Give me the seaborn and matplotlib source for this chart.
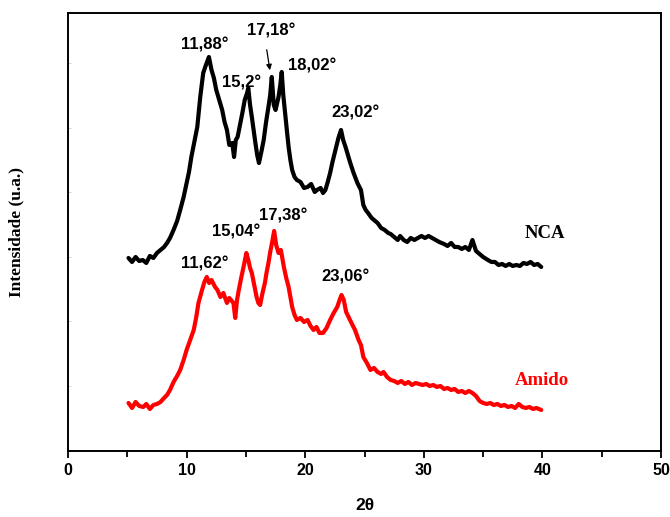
import numpy as np
import pandas as pd
import matplotlib
matplotlib.use("Agg")
import matplotlib.pyplot as plt
import seaborn as sns

# ---- data (intensity in arbitrary units) ----
nca_2theta = [5.1, 5.4, 5.7, 6.0, 6.3, 6.6, 6.9, 7.2, 7.5, 7.8, 8.1, 8.35, 8.6, 8.9, 9.2, 9.46, 9.75,
              10.0, 10.2, 10.4, 10.65, 10.9, 11.15, 11.4, 11.6, 11.88, 12.1, 12.3, 12.5, 12.75, 13.0,
              13.2, 13.4, 13.6, 13.85, 14.0, 14.15, 14.3, 14.5, 14.7, 14.9, 15.1, 15.2, 15.35, 15.5,
              15.65, 15.8, 15.95, 16.1, 16.3, 16.5, 16.7, 16.9, 17.05, 17.18, 17.35, 17.5, 17.75, 17.9,
              18.02, 18.15, 18.3, 18.45, 18.6, 18.75, 18.9, 19.1, 19.3, 19.6, 19.9, 20.2, 20.5, 20.8,
              21.0, 21.3, 21.5, 21.7, 21.9, 22.1, 22.3, 22.55, 22.8, 23.02, 23.2, 23.4, 23.6, 23.8,
              24.05, 24.4, 24.7, 24.9, 25.1, 25.3, 25.6, 25.8, 26.1, 26.4, 26.7, 27.0, 27.2, 27.5,
              27.8, 28.0, 28.3, 28.6, 28.9, 29.2, 29.5, 29.8, 30.1, 30.4, 30.7, 31.0, 31.3, 31.7,
              32.0, 32.3, 32.6, 32.9, 33.2, 33.5, 33.8, 34.1, 34.4, 34.7, 35.0, 35.4, 35.7, 36.0,
              36.3, 36.6, 36.9, 37.2, 37.5, 37.8, 38.1, 38.4, 38.7, 39.0, 39.3, 39.6, 39.9]
nca_int = [193, 189, 194, 190, 191, 188, 195, 193, 198, 201, 204, 208, 213, 221, 230, 241, 254,
           268, 279, 294, 309, 324, 354, 378, 385, 394, 381, 373, 361, 351, 341,
           329, 321, 306, 308, 294, 311, 314, 326, 338, 351, 358, 363, 346, 334,
           321, 308, 296, 288, 299, 311, 329, 344, 356, 374, 346, 341, 354, 366,
           379, 356, 338, 321, 304, 291, 281, 274, 271, 269, 263, 264, 267, 259,
           261, 263, 258, 261, 269, 278, 289, 301, 313, 321, 311, 304, 296, 288,
           279, 268, 261, 246, 241, 238, 233, 231, 228, 223, 221, 218, 217, 214,
           211, 215, 211, 209, 213, 211, 213, 215, 213, 215, 213, 211, 209, 207,
           205, 208, 204, 204, 202, 204, 201, 211, 200, 197, 194, 191, 189, 189,
           186, 187, 185, 187, 185, 186, 185, 188, 187, 189, 186, 187, 184]

amido_2theta = [5.1, 5.4, 5.7, 6.0, 6.35, 6.6, 6.9, 7.2, 7.5, 7.8, 8.1, 8.35, 8.6, 8.9, 9.2, 9.46,
                9.75, 10.0, 10.3, 10.6, 10.8, 11.0, 11.3, 11.5, 11.7, 11.9, 12.1, 12.4, 12.6, 12.85,
                13.1, 13.4, 13.6, 13.95, 14.1, 14.25, 14.4, 14.6, 14.8, 15.04, 15.2, 15.35, 15.5,
                15.7, 15.9, 16.05, 16.2, 16.4, 16.6, 16.75, 16.9, 17.05, 17.2, 17.38, 17.55, 17.75,
                17.95, 18.2, 18.4, 18.6, 18.75, 18.9, 19.1, 19.3, 19.6, 19.9, 20.2, 20.45, 20.7,
                20.95, 21.2, 21.5, 21.8, 22.1, 22.4, 22.7, 22.9, 23.06, 23.25, 23.45, 23.65, 23.9,
                24.2, 24.5, 24.7, 24.9, 25.2, 25.5, 25.8, 26.1, 26.4, 26.6, 26.9, 27.2, 27.5, 27.8,
                28.1, 28.4, 28.7, 29.0, 29.3, 29.6, 29.9, 30.2, 30.5, 30.8, 31.1, 31.4, 31.7, 32.0,
                32.3, 32.6, 32.9, 33.2, 33.5, 33.8, 34.1, 34.4, 34.7, 35.0, 35.3, 35.6, 35.9, 36.2,
                36.5, 36.8, 37.1, 37.4, 37.7, 38.0, 38.3, 38.6, 38.9, 39.2, 39.5, 39.9]
amido_int = [48, 43, 49, 45, 44, 47, 42, 46, 47, 49, 53, 56, 61, 69, 75, 81,
             91, 101, 111, 121, 133, 148, 161, 169, 174, 168, 171, 164, 161, 154,
             158, 148, 153, 148, 133, 151, 161, 173, 184, 198, 191, 183, 178,
             166, 154, 148, 146, 158, 168, 179, 188, 199, 208, 220, 206, 198,
             201, 184, 173, 164, 154, 144, 136, 131, 133, 129, 131, 125, 121,
             124, 118, 118, 123, 131, 138, 144, 151, 156, 151, 139, 134, 128,
             121, 111, 106, 94, 88, 81, 83, 79, 77, 79, 74, 71, 70, 68,
             70, 67, 69, 66, 68, 67, 66, 67, 65, 66, 64, 65, 62, 63,
             61, 62, 59, 60, 58, 60, 58, 55, 50, 48, 47, 48, 46, 47,
             45, 46, 44, 45, 43, 47, 44, 43, 44, 42, 43, 41]

series_names = ["NCA", "Amido"]
series_colors = ["black", "red"]

nca_peaks = ["11,88°", "15,2°", "17,18°", "18,02°", "23,02°"]
amido_peaks = ["11,62°", "15,04°", "17,38°", "23,06°"]

x_ticks = [0, 10, 20, 30, 40, 50]

# ---- figure ----
sns.set_style("white")
plt.rcParams["font.family"] = ["Liberation Sans", "DejaVu Sans"]
plt.rcParams["text.color"] = "black"
plt.rcParams["axes.labelcolor"] = "black"
plt.rcParams["xtick.color"] = "black"
plt.rcParams["ytick.color"] = "black"

fig = plt.figure(figsize=(6.70, 5.17), dpi=100)
ax = fig.add_axes([0.1015, 0.1277, 0.8851, 0.8472])

df_nca = pd.DataFrame({"2θ": nca_2theta, "I": nca_int})
df_am = pd.DataFrame({"2θ": amido_2theta, "I": amido_int})
sns.lineplot(data=df_nca, x="2θ", y="I", color=series_colors[0], lw=3.0,
             sort=False, estimator=None, ax=ax)
sns.lineplot(data=df_am, x="2θ", y="I", color=series_colors[1], lw=3.0,
             sort=False, estimator=None, ax=ax)

ax.set_xlim(0, 50)
ax.set_ylim(0, 438)
ax.set_xticks(x_ticks)
ax.set_xticks([5, 15, 25, 35, 45], minor=True)
ax.set_xticklabels([str(t) for t in x_ticks], fontweight="bold", fontsize=11.5)
ax.set_yticks(np.arange(65, 438, 64.6))
ax.set_yticklabels([])
ax.tick_params(axis="x", which="both", bottom=True)
ax.tick_params(axis="y", which="both", left=True)
ax.tick_params(axis="x", which="major", direction="out", length=5, width=1.3, color="black", pad=4)
ax.tick_params(axis="x", which="minor", direction="out", length=4, width=1.3, color="black")
ax.tick_params(axis="y", which="major", direction="in", length=2, width=0.6, color="#cccccc")

for s in ax.spines.values():
    s.set_visible(True)
    s.set_color("black")
    s.set_linewidth(1.4)

ax.set_xlabel("2θ", fontsize=12.5, fontweight="bold", labelpad=14)
ax.set_ylabel("Intensidade (u.a.)", fontsize=12.5, fontweight="bold",
              family=["Liberation Serif", "DejaVu Serif"], labelpad=28)

lab_kw = dict(fontsize=12, fontweight="bold", ha="center", va="center", color="black")
# NCA peak labels
ax.text(11.57, 406, nca_peaks[0], **lab_kw)
ax.text(14.6, 368, nca_peaks[1], **lab_kw)
ax.text(17.15, 420, nca_peaks[2], **lab_kw)
ax.text(20.6, 385, nca_peaks[3], **lab_kw)
ax.text(24.24, 338, nca_peaks[4], **lab_kw)
ax.annotate("", xy=(17.06, 378), xytext=(16.72, 404),
            arrowprops=dict(arrowstyle="-|>", color="black", lw=0.9, mutation_scale=8))
# Amido peak labels
ax.text(11.57, 187, amido_peaks[0], **lab_kw)
ax.text(14.19, 219, amido_peaks[1], **lab_kw)
ax.text(18.16, 235, amido_peaks[2], **lab_kw)
ax.text(23.4, 174, amido_peaks[3], **lab_kw)

serif = ["Liberation Serif", "DejaVu Serif"]
ax.text(40.2, 217, series_names[0], fontsize=13.5, fontweight="bold", family=serif,
        color=series_colors[0], ha="center", va="center")
ax.text(39.95, 70, series_names[1], fontsize=13.5, fontweight="bold", family=serif,
        color=series_colors[1], ha="center", va="center")

fig.savefig("out.png", dpi=100)
